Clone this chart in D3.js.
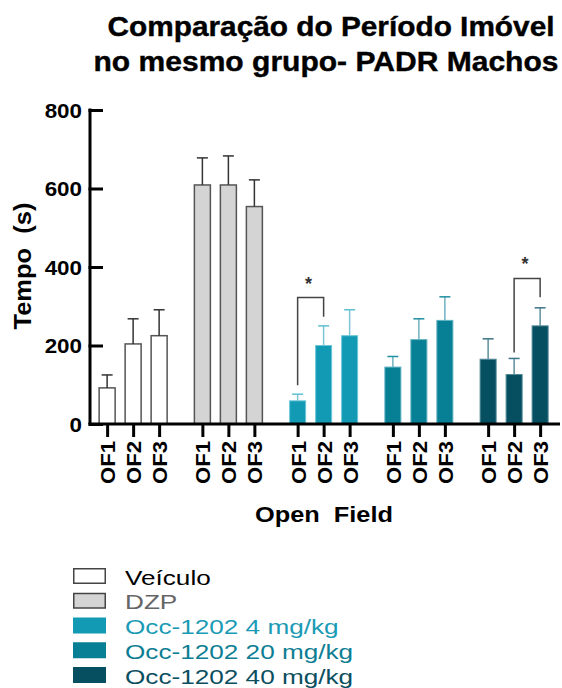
<!DOCTYPE html>
<html lang="pt">
    <head>
        <meta charset="utf-8">
        <title>Comparação do Período Imóvel</title>
        <script src="https://d3js.org/d3.v7.min.js"></script>
        <style type="text/css">
            body { margin: 0; background: white; }
            text { font-family: "Liberation Sans", Arial, sans-serif; }
            .axis path, .axis line { stroke: black; stroke-width: 3px; }
            .axis text { font-weight: bold; fill: black; }
        </style>
    </head>
    <body>
        <script type="text/javascript">

            const w = 562;
            const h = 688;

            // data (mean and SEM, seconds)
            const groups = ["Veículo", "DZP", "Occ-1202 4 mg/kg", "Occ-1202 20 mg/kg", "Occ-1202 40 mg/kg"];
            const sessions = ["OF1", "OF2", "OF3"];
            const veiculoMean = [92, 204, 225];
            const veiculoSem = [33, 64, 66];
            const dzpMean = [609, 609, 554];
            const dzpSem = [69, 74, 68];
            const occ4Mean = [59, 200, 225];
            const occ4Sem = [17, 50, 66];
            const occ20Mean = [145, 215, 264];
            const occ20Sem = [27, 53, 60];
            const occ40Mean = [165, 126, 250];
            const occ40Sem = [52, 41, 46];
            const yTicks = [0, 200, 400, 600, 800];

            // significance brackets: group, from, to, left leg / top / right leg (s)
            const brackets = [
                {group: "Occ-1202 4 mg/kg", from: "OF1", to: "OF2", left: 99, top: 322, right: 273, label: "*"},
                {group: "Occ-1202 40 mg/kg", from: "OF2", to: "OF3", left: 182, top: 371, right: 323, label: "*"}
            ];

            const means = [veiculoMean, dzpMean, occ4Mean, occ20Mean, occ40Mean];
            const sems = [veiculoSem, dzpSem, occ4Sem, occ20Sem, occ40Sem];

            const fills = ["#ffffff", "#d4d4d4", "#129ab4", "#077f94", "#054f61"];
            const edges = ["#555555", "#555555", "#6cc6d8", "#5fb2c2", "#4f8796"];
            const errStem = ["#333333", "#333333", "#7cc6d4", "#6fb2bf", "#5d8f9c"];
            const errCap = ["#333333", "#333333", "#5fbfd2", "#1f8fa3", "#3c7585"];
            const legendText = ["#000000", "#666666", "#1a9bb5", "#0d7e93", "#0a4e60"];

            const data = [];
            groups.forEach((g, gi) => {
                sessions.forEach((s, si) => {
                    data.push({group: g, gi: gi, session: s, mean: means[gi][si], sem: sems[gi][si]});
                });
            });

            // helper: stretch glyphs a bit wider like in the original export
            function stretch(sel, k) {
                sel.each(function () {
                    const L = this.getComputedTextLength();
                    if (L > 0) d3.select(this).attr("textLength", L * k).attr("lengthAdjust", "spacingAndGlyphs");
                });
            }

            const svg = d3.select("body").append("svg")
                .attr("width", w)
                .attr("height", h);

            //scales
            const yScale = d3.scaleLinear().domain([0, 800]).range([424, 110]);
            const groupScale = d3.scaleBand().domain(groups).range([85.5, 561.75]).padding(0);
            const step = groupScale.bandwidth();
            const inner = d3.scalePoint().domain(sessions).range([step / 2 - 26, step / 2 + 26]);
            const xPos = (g, s) => groupScale(g) + inner(s);
            const barW = 16;

            //title
            const title = svg.append("g").attr("font-weight", "bold").attr("font-size", 28).attr("text-anchor", "middle")
                .attr("stroke", "black").attr("stroke-width", 0.4);
            title.append("text").attr("x", 331).attr("y", 36).text("Comparação do Período Imóvel")
                .attr("textLength", 447).attr("lengthAdjust", "spacingAndGlyphs");
            title.append("text").attr("x", 326).attr("y", 71).text("no mesmo grupo- PADR Machos")
                .attr("textLength", 465).attr("lengthAdjust", "spacingAndGlyphs");

            //bars
            svg.append("g").selectAll("rect")
                .data(data)
                .join("rect")
                .attr("x", d => xPos(d.group, d.session) - barW / 2)
                .attr("y", d => yScale(d.mean))
                .attr("width", barW)
                .attr("height", d => yScale(0) - yScale(d.mean))
                .attr("fill", d => fills[d.gi])
                .attr("stroke", d => edges[d.gi])
                .attr("stroke-width", d => d.gi < 2 ? 1.5 : 1);

            //error bars (upper only)
            const err = svg.append("g").selectAll("g")
                .data(data)
                .join("g");
            err.append("line")
                .attr("x1", d => xPos(d.group, d.session))
                .attr("x2", d => xPos(d.group, d.session))
                .attr("y1", d => yScale(d.mean))
                .attr("y2", d => yScale(d.mean + d.sem))
                .attr("stroke", d => errStem[d.gi])
                .attr("stroke-width", 1.5);
            err.append("line")
                .attr("x1", d => xPos(d.group, d.session) - 5.5)
                .attr("x2", d => xPos(d.group, d.session) + 5.5)
                .attr("y1", d => yScale(d.mean + d.sem))
                .attr("y2", d => yScale(d.mean + d.sem))
                .attr("stroke", d => errCap[d.gi])
                .attr("stroke-width", 1.5);

            //brackets
            const br = svg.append("g").selectAll("g").data(brackets).join("g");
            br.append("path")
                .attr("d", d => {
                    const x1 = xPos(d.group, d.from), x2 = xPos(d.group, d.to);
                    return "M" + x1 + "," + yScale(d.left) + "V" + yScale(d.top) + "H" + x2 + "V" + yScale(d.right);
                })
                .attr("fill", "none")
                .attr("stroke", "#444")
                .attr("stroke-width", 1.5);
            br.append("text")
                .attr("x", d => (xPos(d.group, d.from) + xPos(d.group, d.to)) / 2 - 2)
                .attr("y", d => yScale(d.top) - 8)
                .attr("text-anchor", "middle")
                .attr("font-size", 18)
                .attr("font-weight", "bold")
                .attr("fill", "#333")
                .text(d => d.label);

            //left axis
            const leftAxis = d3.axisLeft(yScale)
                .tickValues(yTicks)
                .tickSize(-13)
                .tickSizeOuter(0)
                .tickPadding(8);
            const yAxis = svg.append("g")
                .attr("class", "axis")
                .attr("transform", "translate(90,0)")
                .call(leftAxis);
            yAxis.select(".domain").attr("d", "M0," + (yScale(800) - 1.5) + "V" + yScale(0));
            yAxis.selectAll(".tick line").attr("x1", -1.5);
            yAxis.selectAll("text").attr("font-size", 20).attr("dy", "0.36em").call(stretch, 1.12);

            //bottom axis
            const keys = data.map(d => d.gi + "|" + d.session);
            const xTickScale = d3.scaleOrdinal().domain(keys).range(data.map(d => xPos(d.group, d.session)));
            const bottomAxis = d3.axisBottom(xTickScale)
                .tickSize(13)
                .tickSizeOuter(0)
                .tickFormat(k => k.split("|")[1]);
            const xAxis = svg.append("g")
                .attr("class", "axis")
                .attr("transform", "translate(0," + yScale(0) + ")")
                .call(bottomAxis);
            xAxis.select(".domain").remove();
            xAxis.append("line").attr("x1", 88.5).attr("x2", 560).attr("y1", 0).attr("y2", 0);
            xAxis.selectAll(".tick text")
                .attr("font-size", 20.5)
                .attr("transform", "rotate(-90)")
                .attr("text-anchor", "end")
                .attr("x", -17)
                .attr("y", 0)
                .attr("dy", "0.36em")
                .call(stretch, 1.08);

            //axis titles
            svg.append("text")
                .attr("transform", "translate(31,266) rotate(-90)")
                .attr("text-anchor", "middle")
                .attr("font-size", 23)
                .attr("font-weight", "bold")
                .style("white-space", "pre")
                .text("Tempo  (s)")
                .attr("textLength", 127).attr("lengthAdjust", "spacingAndGlyphs");
            svg.append("text")
                .attr("x", 324)
                .attr("y", 522)
                .attr("text-anchor", "middle")
                .attr("font-size", 22.5)
                .attr("font-weight", "bold")
                .style("white-space", "pre")
                .text("Open  Field")
                .attr("textLength", 138).attr("lengthAdjust", "spacingAndGlyphs");

            //legend
            const legend = svg.append("g").selectAll("g")
                .data(groups)
                .join("g")
                .attr("transform", (d, i) => "translate(73," + (568 + i * 24.75) + ")");
            legend.append("rect")
                .attr("x", (d, i) => i < 2 ? 0.75 : 0)
                .attr("y", (d, i) => i < 2 ? 0.75 : 0)
                .attr("width", (d, i) => i < 2 ? 31.5 : 33)
                .attr("height", (d, i) => i < 2 ? 14.5 : 16)
                .attr("fill", (d, i) => fills[i])
                .attr("stroke", (d, i) => i < 2 ? "#444" : "none")
                .attr("stroke-width", 1.5);
            legend.append("text")
                .attr("x", 52)
                .attr("y", 16.5)
                .attr("font-size", 21)
                .attr("fill", (d, i) => legendText[i])
                .text(d => d)
                .call(stretch, 1.245);

        </script>
    </body>
</html>
